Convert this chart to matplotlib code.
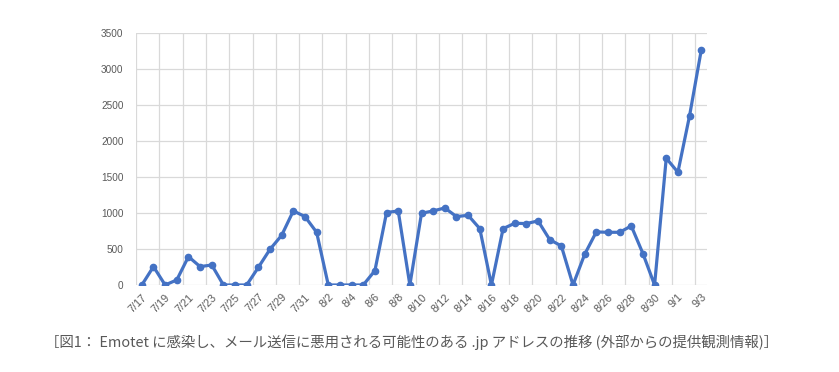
import matplotlib
matplotlib.use("Agg")
import matplotlib.pyplot as plt
import numpy as np

dates = ["7/17","7/18","7/19","7/20","7/21","7/22","7/23","7/24","7/25","7/26",
         "7/27","7/28","7/29","7/30","7/31",
         "8/1","8/2","8/3","8/4","8/5","8/6","8/7","8/8","8/9","8/10",
         "8/11","8/12","8/13","8/14","8/15","8/16","8/17","8/18","8/19","8/20",
         "8/21","8/22","8/23","8/24","8/25","8/26","8/27","8/28","8/29","8/30","8/31",
         "9/1","9/2","9/3"]
counts = [0, 255, 0, 70, 394, 255, 278, 0, 0, 0,
          245, 496, 690, 1029, 950,
          732, 0, 0, 0, 0, 199, 1006, 1029, 0, 996,
          1029, 1070, 950, 968, 783, 0, 783, 857, 853, 890,
          630, 542, 0, 426, 737, 732, 732, 820, 436, 0, 1761,
          1566, 2349, 3258]
yticks = [0, 500, 1000, 1500, 2000, 2500, 3000, 3500]
caption = "［図1： Emotet に感染し、メール送信に悪用される可能性のある .jp アドレスの推移 (外部からの提供観測情報)］"

fig = plt.figure(figsize=(8.39, 3.72), dpi=100)
ax = fig.add_axes([0.1621, 0.2339, 0.6806, 0.6774])

x = np.arange(len(dates))
ax.plot(x, counts, color="#4472C4", linewidth=2.3, marker="o", markersize=4.5,
        zorder=3, solid_joinstyle="round")

ax.set_xlim(-0.5, len(dates) - 0.5)
ax.set_ylim(0, 3500)
ax.set_yticks(yticks)
ax.set_yticklabels([str(v) for v in yticks], fontsize=7.2, color="#595959",
                   family="Liberation Sans")

# vertical gridlines at category boundaries every 2 categories
for b in np.arange(-0.5, len(dates) - 1, 2):
    ax.axvline(b, color="#D9D9D9", linewidth=0.9, zorder=1)
for v in yticks:
    ax.axhline(v, color="#D9D9D9", linewidth=0.9, zorder=1)

ax.set_xticks(x[::2])
ax.set_xticklabels(dates[::2], rotation=45, ha="right", va="top",
                   rotation_mode="anchor", fontsize=7.8, color="#595959",
                   family="Liberation Sans")
ax.tick_params(axis="both", length=0)
ax.tick_params(axis="y", pad=9)
ax.tick_params(axis="x", pad=5)
for s in ax.spines.values():
    s.set_visible(False)

fig.text(0.4905, 0.081, caption, ha="center", va="center", fontsize=10.4,
         color="#595959", family=["Noto Sans CJK JP", "DejaVu Sans"])

fig.savefig("out.png", dpi=100, facecolor="white")
